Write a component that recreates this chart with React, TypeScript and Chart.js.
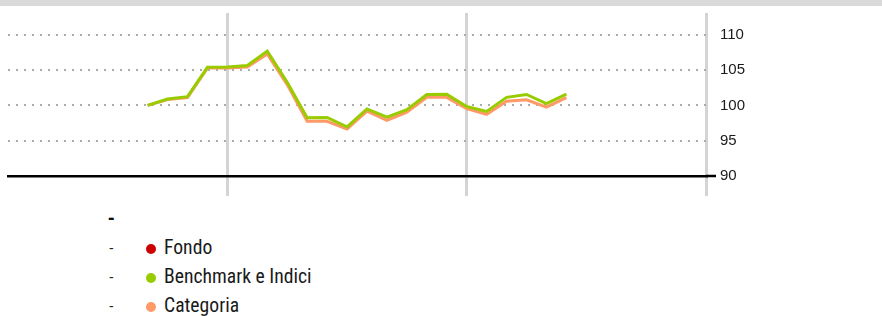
import React, { useEffect, useRef } from "react";
import { Chart, registerables } from "chart.js";

Chart.register(...registerables);

// Month positions on the x axis (0 = left edge, year separators at 11, 23, 35)
const monthIndex = [7, 8, 9, 10, 11, 12, 13, 14, 15, 16, 17, 18, 19, 20, 21, 22, 23, 24, 25, 26, 27, 28];
const benchmark = [100.0, 100.9, 101.25, 105.4, 105.45, 105.65, 107.7, 103.3, 98.25, 98.3, 96.95, 99.5, 98.35, 99.4, 101.55, 101.6, 99.85, 99.15, 101.15, 101.55, 100.25, 101.6];
const categoria = [100.0, 100.85, 101.1, 105.3, 105.3, 105.45, 107.3, 102.95, 97.75, 97.75, 96.65, 99.2, 97.9, 99.05, 101.15, 101.15, 99.55, 98.75, 100.6, 100.8, 99.75, 101.1];
const fondo: number[] = [];
const yTicks = [90, 95, 100, 105, 110];
const yearLines = [11, 23, 35];
const legendLabels = ["Fondo", "Benchmark e Indici", "Categoria"];
const legendColors = ["#cc0000", "#99cc00", "#ff9966"];

export default function App() {
  const ref = useRef<HTMLCanvasElement>(null);

  useEffect(() => {
    document.body.style.margin = "0";
    const canvas = ref.current;
    if (!canvas) return;
    const toPts = (vals: number[]) => vals.map((y, i) => ({ x: monthIndex[i], y }));
    const chart = new Chart(canvas, {
      type: "line",
      data: {
        datasets: [
          { label: legendLabels[0], data: toPts(fondo), borderColor: legendColors[0], borderWidth: 3, pointRadius: 0 },
          { label: legendLabels[1], data: toPts(benchmark), borderColor: legendColors[1], borderWidth: 3, pointRadius: 0, tension: 0 },
          { label: legendLabels[2], data: toPts(categoria), borderColor: legendColors[2], borderWidth: 3, pointRadius: 0, tension: 0 },
        ],
      },
      options: {
        responsive: false,
        animation: false,
        devicePixelRatio: 1,
        layout: { padding: { top: 10, left: 8, right: 0, bottom: 0 } },
        plugins: { legend: { display: false }, tooltip: { enabled: false } },
        scales: {
          x: {
            type: "linear",
            min: 0,
            max: 35,
            afterBuildTicks: (s: any) => {
              s.ticks = yearLines.map((v) => ({ value: v }));
            },
            afterFit: (s: any) => {
              s.height = 20;
            },
            ticks: { display: false },
            grid: {
              color: "#d4d4d4",
              lineWidth: 3,
              drawTicks: true,
              tickLength: 20,
              tickColor: "#d4d4d4",
              tickWidth: 3,
            },
            border: { display: true, color: "#000000", width: 2.5, z: -1 },
          },
          y: {
            position: "right",
            min: 90,
            max: 113.1,
            afterBuildTicks: (s: any) => {
              s.ticks = yTicks.map((v) => ({ value: v }));
            },
            afterFit: (s: any) => {
              s.width = 176;
            },
            ticks: {
              padding: 4,
              color: "#1a1a1a",
              font: { family: '"Liberation Sans", Arial, sans-serif', size: 15 },
            },
            grid: {
              color: (ctx: any) => (ctx.tick && ctx.tick.value === 90 ? "rgba(0,0,0,0)" : "#ababab"),
              lineWidth: 2,
              drawTicks: true,
              tickLength: 10,
              tickColor: (ctx: any) => (ctx.tick && ctx.tick.value === 90 ? "#000000" : "rgba(0,0,0,0)"),
              tickWidth: 2.5,
            },
            border: { display: false, dash: [2, 6] },
          },
        },
      },
    } as any);
    return () => chart.destroy();
  }, []);

  const narrow = '"Liberation Sans Narrow", "Roboto Condensed", "Arial Narrow", sans-serif';

  return (
    <div style={{ position: "fixed", left: 0, top: 0, width: 882, height: 316, background: "#fff", overflow: "hidden" }}>
      <div style={{ position: "absolute", left: 0, top: 0, width: 882, height: 6, background: "#d9d9d9" }} />
      <canvas ref={ref} width={882} height={196} style={{ position: "absolute", left: 0, top: 0, width: 882, height: 196 }} />
      <div style={{ position: "absolute", left: 107.5, top: 204, fontFamily: narrow, fontWeight: "bold", fontSize: 21, lineHeight: "29px", color: "#111" }}>-</div>
      {legendLabels.map((name, i) => (
        <div key={name} style={{ position: "absolute", left: 0, top: 233.2 + i * 29, width: 882, height: 29 }}>
          <span style={{ position: "absolute", left: 109, top: 8.3, fontFamily: '"Liberation Sans", Arial, sans-serif', fontSize: 14, lineHeight: "14px", color: "#222" }}>-</span>
          <span style={{ position: "absolute", left: 146, top: 10.8, width: 10, height: 10, borderRadius: "50%", background: legendColors[i] }} />
          <span style={{ position: "absolute", left: 164, top: 0, fontFamily: narrow, fontSize: 21, lineHeight: "29px", whiteSpace: "nowrap", color: "#1a1a1a", transform: "scaleX(0.936)", transformOrigin: "0 0" }}>{name}</span>
        </div>
      ))}
    </div>
  );
}
